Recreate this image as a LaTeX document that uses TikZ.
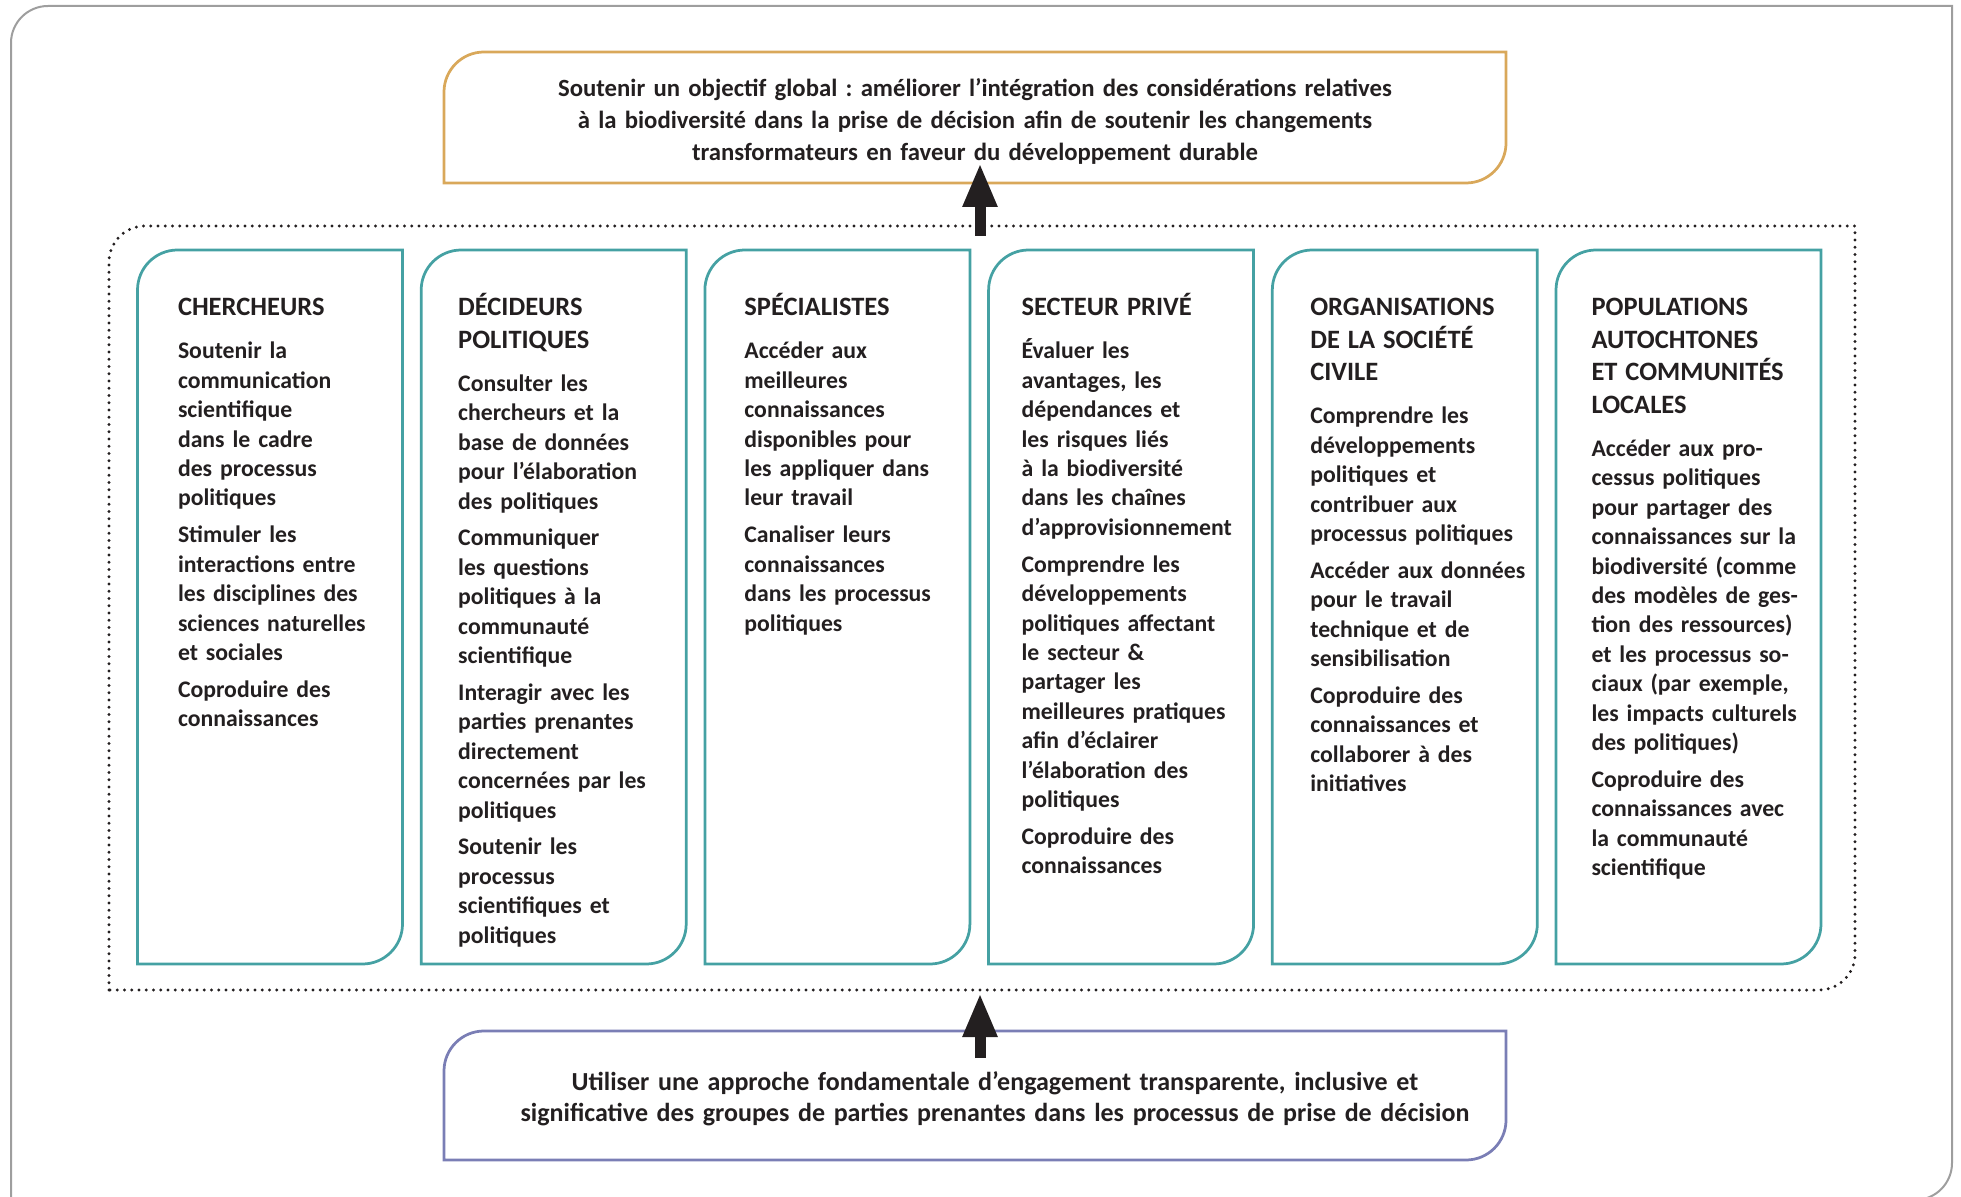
\documentclass[tikz,border=0pt]{standalone}
\usepackage{fontspec}
\setmainfont{Carlito}
\usetikzlibrary{arrows.meta}
\frenchspacing

\definecolor{ink}{HTML}{231F20}
\definecolor{tealline}{HTML}{45A1A3}
\definecolor{goldline}{HTML}{D9A85A}
\definecolor{violetline}{HTML}{7A7EB5}
\definecolor{frameline}{HTML}{9E9E9E}

% box outline with rounded top-left and bottom-right corners
\newcommand\leafbox[3]{%
  \draw[#2] (#1.south west) -- ([yshift=-#3]#1.north west)
    arc[start angle=180,end angle=90,radius=#3] -- (#1.north east)
    -- ([yshift=#3]#1.south east)
    arc[start angle=0,end angle=-90,radius=#3] -- cycle;}
% column heading line, set a little larger than the body text
\newcommand\hd[1]{{\fontsize{10.6pt}{11.76pt}\selectfont #1}}

\begin{document}
\begin{tikzpicture}[x=0.4pt,y=-0.4pt,
  area/.style={rectangle,inner sep=0pt,outer sep=0pt,anchor=north west},
  colbox/.style={area,minimum width=106pt,minimum height=285.6pt},
  coltext/.style={anchor=base west,inner sep=0pt,text width=100pt,align=left,
    text=ink,font=\fontsize{9.5pt}{11.76pt}\selectfont\bfseries},
  goaltext/.style={anchor=base,inner sep=0pt,text width=440pt,align=center,
    text=ink,font=\fontsize{9.9pt}{12.8pt}\selectfont\bfseries},
  basetext/.style={goaltext,font=\fontsize{10.4pt}{12.4pt}\selectfont\bfseries},
  tealstroke/.style={draw=tealline,line width=1.1pt},
  goldstroke/.style={draw=goldline,line width=1.1pt},
  violetstroke/.style={draw=violetline,line width=1.1pt},
  dotstroke/.style={draw=ink,line width=1.3pt,line cap=round,dash pattern=on 0pt off 2.9pt},
  bigarrow/.style={draw=ink,line width=4.4pt,-{Triangle[length=17.6pt,width=12.8pt]}}]

\useasboundingbox (0,0) rectangle (1961,1197);

% outer frame
\draw[frameline,line width=0.8pt] (11,1210) -- (11,43)
  arc[start angle=180,end angle=90,radius=14.8pt] -- (1952,6) -- (1952,1163)
  arc[start angle=0,end angle=-90,radius=14.8pt];

% goal and foundation boxes
\node[area,minimum width=424.8pt,minimum height=52.4pt] (goal) at (444,52) {};
\leafbox{goal}{goldstroke}{16pt}
\node[goaltext] (goaltxt) at (975,96.2) {Soutenir un objectif global : améliorer l’intégration des considérations relatives\\
à la biodiversité dans la prise de décision afin de soutenir les changements\\
transformateurs en faveur du développement durable};

\node[area,minimum width=424.8pt,minimum height=51.6pt] (base) at (444,1031) {};
\leafbox{base}{violetstroke}{16pt}
\node[basetext] (basetxt) at (995,1090.5) {Utiliser une approche fondamentale d’engagement transparente, inclusive et\\
significative des groupes de parties prenantes dans les processus de prise de décision};

% dotted panel holding the stakeholder columns
\node[area,minimum width=698.4pt,minimum height=305.6pt] (panel) at (109,226) {};
\leafbox{panel}{dotstroke}{14.4pt}

% stakeholder columns
\node[colbox] (c1) at (137.5,250) {};
\node[colbox] (c2) at (421.2,250) {};
\node[colbox] (c3) at (704.9,250) {};
\node[colbox] (c4) at (988.6,250) {};
\node[colbox] (c5) at (1272.3,250) {};
\node[colbox] (c6) at (1556,250) {};
\foreach \c in {c1,c2,c3,c4,c5,c6}{\leafbox{\c}{tealstroke}{16pt}}

\node[coltext] (t1) at ([xshift=16pt,yshift=-26.4pt]c1.north west) {\hd{CHERCHEURS}\\[5.44pt]
Soutenir la\\ communication\\ scientifique\\ dans le cadre\\ des processus\\ politiques\\[3pt]
Stimuler les\\ interactions entre\\ les disciplines des\\ sciences naturelles\\ et sociales\\[3pt]
Coproduire des\\ connaissances};

\node[coltext] (t2) at ([xshift=14.6pt,yshift=-26.4pt]c2.north west) {\hd{DÉCIDEURS}\\[1.24pt] \hd{POLITIQUES}\\[5.44pt]
Consulter les\\ chercheurs et la\\ base de données\\ pour l’élaboration\\ des politiques\\[3pt]
Communiquer\\ les questions\\ politiques à la\\ communauté\\ scientifique\\[3pt]
Interagir avec les\\ parties prenantes\\ directement\\ concernées par les\\ politiques\\[3pt]
Soutenir les\\ processus\\ scientifiques et\\ politiques};

\node[coltext] (t3) at ([xshift=15.6pt,yshift=-26.4pt]c3.north west) {\hd{SPÉCIALISTES}\\[5.44pt]
Accéder aux\\ meilleures\\ connaissances\\ disponibles pour\\ les appliquer dans\\ leur travail\\[3pt]
Canaliser leurs\\ connaissances\\ dans les processus\\ politiques};

\node[coltext] (t4) at ([xshift=13pt,yshift=-26.4pt]c4.north west) {\hd{SECTEUR PRIVÉ}\\[5.44pt]
Évaluer les\\ avantages, les\\ dépendances et\\ les risques liés\\ à la biodiversité\\ dans les chaînes\\ d’approvisionnement\\[3pt]
Comprendre les\\ développements\\ politiques affectant\\ le secteur \&\\ partager les\\ meilleures pratiques\\ afin d’éclairer\\ l’élaboration des\\ politiques\\[3pt]
Coproduire des\\ connaissances};

\node[coltext] (t5) at ([xshift=15pt,yshift=-26.4pt]c5.north west) {\hd{ORGANISATIONS}\\[1.24pt] \hd{DE LA SOCIÉTÉ}\\[1.24pt] \hd{CIVILE}\\[5.44pt]
Comprendre les\\ développements\\ politiques et\\ contribuer aux\\ processus politiques\\[3pt]
Accéder aux données\\ pour le travail\\ technique et de\\ sensibilisation\\[3pt]
Coproduire des\\ connaissances et\\ collaborer à des\\ initiatives};

\node[coltext] (t6) at ([xshift=14pt,yshift=-26.4pt]c6.north west) {\hd{POPULATIONS}\\[1.24pt] \hd{AUTOCHTONES}\\[1.24pt] \hd{ET COMMUNITÉS}\\[1.24pt] \hd{LOCALES}\\[5.44pt]
Accéder aux pro-\\ cessus politiques\\ pour partager des\\ connaissances sur la\\ biodiversité (comme\\ des modèles de ges-\\ tion des ressources)\\ et les processus so-\\ ciaux (par exemple,\\ les impacts culturels\\ des politiques)\\[3pt]
Coproduire des\\ connaissances avec\\ la communauté\\ scientifique};

% arrows: foundation feeds the panel, panel feeds the goal
\coordinate (upTail) at (980,236);
\coordinate (upTip) at (980,163);
\draw[bigarrow] (upTail) -- (upTip);
\coordinate (inTail) at (980,1058);
\coordinate (inTip) at (980,993);
\draw[bigarrow] (inTail) -- (inTip);

\end{tikzpicture}
\end{document}
